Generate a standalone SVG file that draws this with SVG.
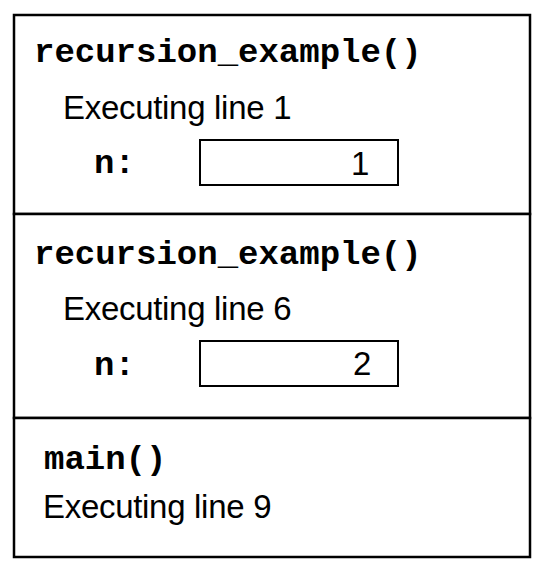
<svg xmlns="http://www.w3.org/2000/svg" width="542" height="576" viewBox="0 0 542 576">
<style>
.frame{fill:#fff;stroke:#000;stroke-width:2.5}
.box{fill:#fff;stroke:#000;stroke-width:2}
.code{font-family:"Liberation Mono","Courier New",monospace;font-weight:bold;font-size:34px;fill:#000}
.txt{font-family:"Liberation Sans",Arial,sans-serif;font-size:33px;fill:#000;letter-spacing:-0.3px}
</style>
<rect width="542" height="576" fill="#fff"/>
<g id="frame1">
<rect class="frame" x="14" y="15" width="516" height="199"/>
<text class="code" x="34" y="62">recursion_example()</text>
<text class="txt" x="63" y="119">Executing line 1</text>
<text class="code" x="94" y="173">n:</text>
<rect class="box" x="200" y="140" width="198" height="45"/>
<text class="txt" x="369" y="175" text-anchor="end">1</text>
</g>
<g id="frame2">
<rect class="frame" x="14" y="214" width="516" height="204"/>
<text class="code" x="34" y="264">recursion_example()</text>
<text class="txt" x="63" y="320">Executing line 6</text>
<text class="code" x="94" y="375">n:</text>
<rect class="box" x="200" y="341" width="198" height="45"/>
<text class="txt" x="371" y="375" text-anchor="end">2</text>
</g>
<g id="frame3">
<rect class="frame" x="14" y="418" width="516" height="139"/>
<text class="code" x="44" y="469">main()</text>
<text class="txt" x="43" y="518">Executing line 9</text>
</g>
<g id="connectors"></g>
</svg>
